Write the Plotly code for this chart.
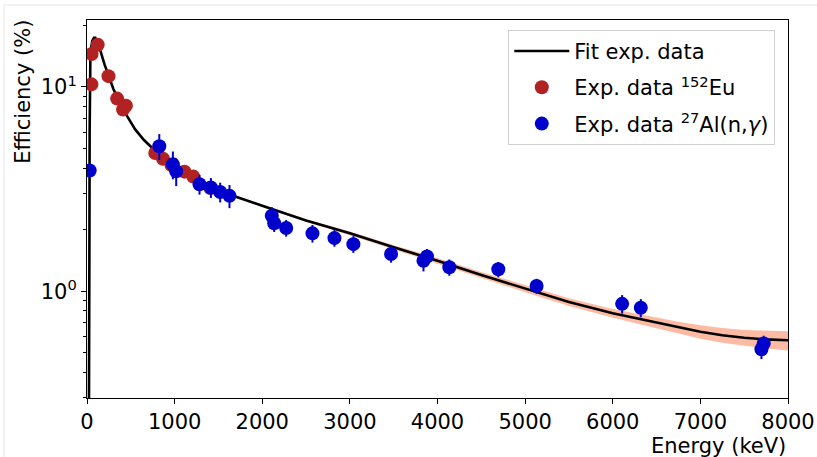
import plotly.graph_objects as go

# ---- data ----
eu_energy = [50, 52, 122, 245, 344, 411, 444, 779, 867, 964, 1112, 1213, 1408]
eu_eff = [10.3, 14.5, 16.1, 11.3, 8.77, 7.75, 8.1, 4.75, 4.45, 4.15, 3.85, 3.64, 3.2]
eu_err = [0.3, 0.4, 0.45, 0.3, 0.25, 0.2, 0.22, 0.13, 0.12, 0.11, 0.1, 0.1, 0.09]

al_energy = [30.6, 825, 980, 1018, 1284, 1414, 1520, 1626, 2109, 2136, 2273, 2573,
             2824, 3040, 3470, 3840, 3880, 4135, 4694, 5131, 6107, 6320, 7697, 7723]
al_eff = [3.9, 5.13, 4.18, 3.87, 3.34, 3.22, 3.06, 2.93, 2.34, 2.15, 2.04, 1.92,
          1.82, 1.70, 1.52, 1.41, 1.48, 1.31, 1.28, 1.06, 0.867, 0.83, 0.52, 0.555]
al_err = [0.1, 0.75, 0.65, 0.6, 0.37, 0.36, 0.34, 0.38, 0.24, 0.2, 0.19, 0.19,
          0.17, 0.16, 0.14, 0.16, 0.13, 0.12, 0.11, 0.09, 0.09, 0.085, 0.055, 0.05]

fit_energy = [22, 26, 28, 30, 33, 38, 45, 60, 80, 95, 120, 150, 200, 250, 300, 350,
              400, 475, 550, 650, 750, 850, 1000, 1200, 1400, 1600, 1800, 2000,
              2500, 3000, 3500, 4000, 4500, 5000, 5500, 6000, 6500, 6750, 7000, 7250,
              7500, 7750, 8000]
fit_eff = [0.25, 0.5, 2.0, 6.0, 10.5, 13.3, 15.2, 16.8, 17.4, 17.4, 16.5, 15.2, 12.9,
           11.1, 9.8, 8.8, 7.9, 7.0, 6.2, 5.5, 5.0, 4.6, 4.1, 3.6, 3.25, 3.0, 2.8,
           2.62, 2.22, 1.92, 1.64, 1.41, 1.2, 1.03, 0.885, 0.78, 0.7, 0.664, 0.633,
           0.609, 0.592, 0.581, 0.575]
fit_rel_unc = [0.01] * 28 + [0.015, 0.02, 0.025, 0.03, 0.035, 0.04, 0.045, 0.05,
                             0.06, 0.068, 0.075, 0.083, 0.09, 0.099, 0.108]

x_ticks = [0, 1000, 2000, 3000, 4000, 5000, 6000, 7000, 8000]
y_ticks = [1, 10]
y_tick_labels = ["10<sup>0</sup>", "10<sup>1</sup>"]
y_minor = [0.3, 0.4, 0.5, 0.6, 0.7, 0.8, 0.9, 2, 3, 4, 5, 6, 7, 8, 9, 20]

upper = [v * (1 + u) for v, u in zip(fit_eff, fit_rel_unc)]
lower = [v * (1 - u) for v, u in zip(fit_eff, fit_rel_unc)]

FONT = "DejaVu Sans"
FS = 21
fig = go.Figure()

fig.add_trace(go.Scatter(x=fit_energy, y=lower, mode="lines", line=dict(width=0),
                         showlegend=False, hoverinfo="skip"))
fig.add_trace(go.Scatter(x=fit_energy, y=upper, mode="lines", line=dict(width=0),
                         fill="tonexty", fillcolor="rgba(252,150,115,0.65)",
                         showlegend=False, hoverinfo="skip"))
fig.add_trace(go.Scatter(x=fit_energy, y=fit_eff, mode="lines",
                         line=dict(color="black", width=2.6),
                         name="Fit exp. data", legendgroup="a"))
fig.add_trace(go.Scatter(x=eu_energy, y=eu_eff, mode="markers",
                         marker=dict(color="#B22222", size=14),
                         error_y=dict(type="data", array=eu_err, color="#B22222",
                                      thickness=2, width=0),
                         name="Exp. data <sup>152</sup>Eu", legendgroup="b"))
fig.add_trace(go.Scatter(x=al_energy, y=al_eff, mode="markers",
                         marker=dict(color="#0000CD", size=14),
                         error_y=dict(type="data", array=al_err, color="#0000CD",
                                      thickness=2, width=0),
                         name="Exp. data <sup>27</sup>Al(n,<i>γ</i>)", legendgroup="c"))

fig.update_layout(
    width=817, height=457,
    margin=dict(l=87, r=29, t=20, b=59),
    paper_bgcolor="white", plot_bgcolor="white",
    font=dict(family=FONT, size=FS, color="black"),
    legend=dict(x=0.601, y=0.974, xanchor="left", yanchor="top",
                bgcolor="rgba(255,255,255,0.8)", bordercolor="#d0d0d0", borderwidth=1,
                font=dict(family=FONT, size=FS), traceorder="grouped",
                tracegroupgap=6, itemwidth=55),
    showlegend=True,
)
fig.update_xaxes(range=[0, 8000], tickvals=x_ticks, ticks="outside", ticklen=5,
                 tickwidth=1.1, tickcolor="black", showline=True, linecolor="black",
                 linewidth=1.1, mirror=True, showgrid=False, zeroline=False,
                 automargin=False, tickfont=dict(family=FONT, size=FS))
fig.update_yaxes(type="log", range=[-0.523, 1.328], tickvals=y_ticks, ticktext=y_tick_labels,
                 ticks="outside", ticklen=5, tickwidth=1.1, tickcolor="black",
                 showline=True, linecolor="black", linewidth=1.1, mirror=True,
                 showgrid=False, zeroline=False, automargin=False,
                 tickfont=dict(family=FONT, size=FS),
                 minor=dict(tickvals=y_minor, ticks="outside", ticklen=3, tickwidth=1,
                            tickcolor="black", showgrid=False))

fig.add_annotation(text="Energy (keV)", xref="paper", yref="paper", x=1.0, y=-0.126,
                   xanchor="right", yanchor="middle", showarrow=False,
                   font=dict(family=FONT, size=FS))
fig.add_annotation(text="Efficiency (%)", xref="paper", yref="paper", x=-0.0913, y=0.81,
                   xanchor="center", yanchor="middle", textangle=-90, showarrow=False,
                   font=dict(family=FONT, size=FS))

# light outer frame of the original image
fig.add_shape(type="line", xref="paper", yref="paper", x0=(4 - 87) / 701, x1=(817 - 87) / 701,
              y0=(398 - 5) / 378, y1=(398 - 5) / 378, line=dict(color="#e6e6e6", width=1))
fig.add_shape(type="line", xref="paper", yref="paper", x0=(4 - 87) / 701, x1=(4 - 87) / 701,
              y0=(398 - 5) / 378, y1=(398 - 457) / 378, line=dict(color="#e6e6e6", width=1))

fig.write_html("out.html")
